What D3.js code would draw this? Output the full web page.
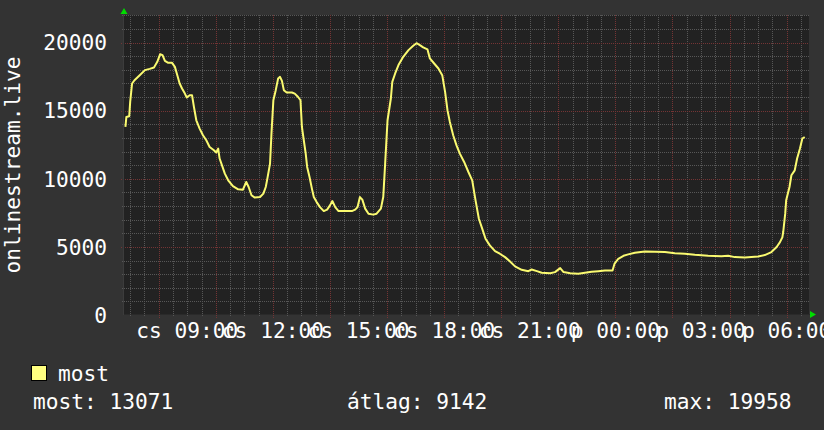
<!DOCTYPE html>
<html><head><meta charset="utf-8">
<script src="https://cdn.jsdelivr.net/npm/d3@7/dist/d3.min.js"></script>
<style>html,body{margin:0;padding:0;background:#333333;}svg{display:block;}</style>
</head><body>
<svg id="chart" width="824" height="430"></svg>
<script>
// time in minutes after Thursday (cs) 00:00; values > 1440 are Friday (p)
const times = [410,412,418,420,424,429,440,451,461,470,477,483,488,493,500,508,514,518,524,529,535,539,545,550,554,559,566,573,580,587,596,601,605,608,613,619,626,636,647,657,664,669,675,682,693,700,705,708,714,717,721,726,731,735,739,743,749,760,766,773,778,781,784,789,792,797,802,806,812,819,827,834,840,845,851,858,872,886,893,898,903,908,914,921,931,938,947,952,956,961,968,971,977,984,994,1005,1015,1022,1029,1036,1045,1050,1059,1068,1076,1082,1087,1092,1099,1106,1113,1122,1131,1139,1146,1153,1160,1167,1176,1187,1197,1208,1218,1229,1243,1257,1264,1275,1285,1303,1313,1324,1331,1345,1362,1376,1390,1404,1418,1434,1438,1446,1457,1467,1481,1502,1523,1544,1565,1586,1607,1635,1663,1677,1691,1712,1740,1754,1768,1779,1786,1791,1793,1797,1799,1806,1810,1817,1822,1828,1833,1838];
const values = [13810,14545,14600,15650,17000,17240,17610,17980,18075,18180,18590,19150,19080,18660,18515,18515,18220,17735,17000,16630,16260,15970,16140,16140,15280,14300,13690,13200,12830,12340,12100,11930,12220,11490,10990,10380,9890,9470,9230,9205,9765,9400,8790,8620,8660,8910,9400,9940,11120,13320,15770,16510,17370,17490,17190,16510,16340,16340,16260,16010,15770,13810,13070,11850,10870,10130,9280,8660,8290,7925,7630,7735,8050,8370,7925,7630,7630,7630,7735,7925,8660,8470,7810,7440,7370,7440,7810,8660,11120,14300,15900,17120,17735,18350,18960,19450,19770,19958,19820,19650,19500,18840,18470,18100,17610,16380,15040,14180,13200,12460,11850,11240,10500,9890,8420,7070,6340,5600,5110,4690,4500,4250,3950,3570,3320,3220,3340,3220,3100,3070,3150,3440,3150,3070,3030,3100,3180,3220,3270,3270,3750,4130,4350,4450,4570,4670,4650,4620,4540,4500,4420,4350,4320,4350,4250,4230,4300,4400,4620,4990,5350,5700,6150,7440,8420,9400,10260,10620,11490,12220,12960,13071];
const seriesName = "most";
const xTickMinutes = [540,720,900,1080,1260,1440,1620,1800];
const xTickLabels = ["cs 09:00","cs 12:00","cs 15:00","cs 18:00","cs 21:00","p 00:00","p 03:00","p 06:00"];
const yTicks = [0,5000,10000,15000,20000];
const yTitle = "onlinestream.live";
const legendStats = [["most:", "13071"],["átlag:", "9142"],["max:", "19958"]];

const svg = d3.select("#chart");
const FONT = "'DejaVu Sans Mono', monospace";
const FS = 21.2;
const L = 124, R = 809, T = 15, B = 315;
const x = d3.scaleLinear().domain([407, 1847]).range([L, R]);
const y = d3.scaleLinear().domain([0, 22030]).range([B, T]);

svg.append("rect").attr("width",824).attr("height",430).attr("fill","#333333");
svg.append("rect").attr("x",L).attr("y",T).attr("width",R-L).attr("height",B-T).attr("fill","#222222");

const px = v => Math.round(v) + 0.5;
// minor grid
const minorX = d3.range(420, 1847, 30).filter(m => m % 120 !== 0);
const minorY = d3.range(1000, 22001, 1000).filter(v => v % 5000 !== 0);
const g = svg.append("g");
minorX.forEach(m => g.append("line").attr("x1",px(x(m))).attr("x2",px(x(m))).attr("y1",T).attr("y2",B+2)
  .attr("stroke","#575757").attr("stroke-dasharray","1,1"));
minorY.forEach(v => g.append("line").attr("x1",L-2).attr("x2",R).attr("y1",px(y(v))).attr("y2",px(y(v)))
  .attr("stroke","#575757").attr("stroke-dasharray","1,1"));
const majorX = d3.range(480, 1847, 120);
majorX.forEach(m => g.append("line").attr("x1",px(x(m))).attr("x2",px(x(m))).attr("y1",T).attr("y2",B+3)
  .attr("stroke","#743434").attr("stroke-dasharray","1,1"));
yTicks.filter(v => v > 0).forEach(v => g.append("line").attr("x1",L-3).attr("x2",R).attr("y1",px(y(v))).attr("y2",px(y(v)))
  .attr("stroke","#743434").attr("stroke-dasharray","1,1"));

// axes lines
svg.append("line").attr("x1",L-0.5).attr("x2",L-0.5).attr("y1",T-3).attr("y2",B).attr("stroke","#3c3c3c");
svg.append("line").attr("x1",L).attr("x2",R+3).attr("y1",B-0.5).attr("y2",B-0.5).attr("stroke","#2a2a2a");

// data line
const pts = times.map((t,i) => [t, values[i]]);
svg.append("path").datum(pts)
  .attr("d", d3.line().x(d => x(d[0])).y(d => y(d[1])).curve(d3.curveLinear))
  .attr("fill","none").attr("stroke","#fafa70").attr("stroke-width",2).attr("stroke-linejoin","round");

// arrows
svg.append("path").attr("d",`M${L-3.5},${T-1} L${L+3.5},${T-1} L${L},${T-7} Z`).attr("fill","#00dd00");
svg.append("path").attr("d",`M${R+1},${B-4} L${R+1},${B+3} L${R+7},${B-0.5} Z`).attr("fill","#00dd00");

// y labels
svg.append("g").selectAll("text").data(yTicks).join("text")
  .attr("x",107).attr("y",d => y(d) + 7.7).attr("text-anchor","end")
  .attr("font-family",FONT).attr("font-size",FS).attr("fill","#ffffff").text(d => d);
// x labels
svg.append("g").selectAll("text").data(xTickMinutes).join("text")
  .attr("x",d => x(d)).attr("y",338).attr("text-anchor","middle")
  .attr("font-family",FONT).attr("font-size",FS).attr("fill","#ffffff").text((d,i) => xTickLabels[i]);
// y title
svg.append("text").attr("transform",`translate(20,165) rotate(-90)`).attr("text-anchor","middle")
  .attr("font-family",FONT).attr("font-size",FS).attr("fill","#ffffff").text(yTitle);

// legend
svg.append("rect").attr("x",31.5).attr("y",365.5).attr("width",15).attr("height",15)
  .attr("fill","#ffff80").attr("stroke","#000000").attr("stroke-width",1);
svg.append("text").attr("x",58).attr("y",381).attr("font-family",FONT).attr("font-size",FS)
  .attr("fill","#ffffff").text(seriesName);
const statX = [33, 347, 664];
legendStats.forEach((s,i) => svg.append("text").attr("x",statX[i]).attr("y",409)
  .attr("font-family",FONT).attr("font-size",FS).attr("fill","#ffffff").attr("xml:space","preserve")
  .text(s[0] + " " + s[1]));
</script>
</body></html>
